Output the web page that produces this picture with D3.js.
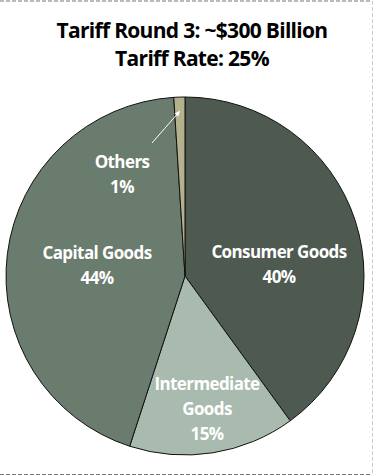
<!DOCTYPE html>
<meta charset="utf-8">
<script src="https://d3js.org/d3.v7.min.js"></script>
<style>
  body { margin: 0; background: #fff; }
  text { font-family: "Open Sans", sans-serif; }
</style>
<div id="chart"></div>
<script>

// data
var categories = ["Consumer Goods", "Intermediate Goods", "Capital Goods", "Others"];
var shares = [40, 15, 44, 1];
var colors = ["#4e5950", "#a8bbae", "#6a7c6e", "#b4b18f"];
var titleLines = ["Tariff Round 3: ~$300 Billion", "Tariff Rate: 25%"];

var width = 374, height = 476;
var cx = 185, cy = 276, radius = 179;

var svg = d3.select("#chart")
  .append("svg")
    .attr("width", width)
    .attr("height", height);

// dashed frame (top, right, bottom)
svg.append("line")
  .attr("x1", 0).attr("x2", 372).attr("y1", 1).attr("y2", 1)
  .attr("stroke", "#777").attr("stroke-dasharray", "4,2");
svg.append("line")
  .attr("x1", 0).attr("x2", 372).attr("y1", 474.5).attr("y2", 474.5)
  .attr("stroke", "#777").attr("stroke-dasharray", "4,2");
svg.append("line")
  .attr("x1", 372.5).attr("x2", 372.5).attr("y1", 1).attr("y2", 474)
  .attr("stroke", "#ccc").attr("stroke-dasharray", "4,2");

// title
svg.selectAll(".title")
  .data(titleLines)
  .enter()
  .append("text")
    .attr("class", "title")
    .attr("x", 192)
    .attr("y", function(d, i) { return 38 + i * 28; })
    .attr("text-anchor", "middle")
    .style("font-size", "21px")
    .style("font-weight", "700")
    .style("letter-spacing", "-0.7px")
    .attr("fill", "#000")
    .text(function(d) { return d; });

var data = categories.map(function(c, i) { return {name: c, value: shares[i], color: colors[i]}; });

var pie = d3.pie()
  .sort(null)
  .value(function(d) { return d.value; });

var arc = d3.arc()
  .innerRadius(0)
  .outerRadius(radius);

var g = svg.append("g")
  .attr("transform", "translate(" + cx + "," + cy + ")");

g.selectAll("path")
  .data(pie(data))
  .enter()
  .append("path")
    .attr("d", arc)
    .attr("fill", function(d) { return d.data.color; })
    .attr("stroke", "#111")
    .attr("stroke-width", 1);

// labels (positions relative to pie centre)
var labelPos = [
  {x: 94, y: -18, lines: ["Consumer Goods", "40%"]},
  {x: 22, y: 114, lines: ["Intermediate", "Goods", "15%"]},
  {x: -88, y: -17, lines: ["Capital Goods", "44%"]},
  {x: -63, y: -108, lines: ["Others", "1%"]}
];

labelPos.forEach(function(l) {
  var t = g.append("text")
    .attr("text-anchor", "middle")
    .attr("fill", "#fff")
    .style("font-size", "17px")
    .style("font-weight", "700")
    .style("letter-spacing", "-0.6px");
  l.lines.forEach(function(s, i) {
    t.append("tspan")
      .attr("x", l.x)
      .attr("y", l.y + i * 25)
      .text(s);
  });
});

// arrow from "Others" label to its slice
svg.append("defs").append("marker")
  .attr("id", "head")
  .attr("viewBox", "0 0 10 10")
  .attr("refX", 9).attr("refY", 5)
  .attr("markerWidth", 6).attr("markerHeight", 6)
  .attr("markerUnits", "userSpaceOnUse")
  .attr("orient", "auto")
  .append("path")
    .attr("d", "M0,1L10,5L0,9z")
    .attr("fill", "#fff");

var othersArc = pie(data)[3];
var mid = (othersArc.startAngle + othersArc.endAngle) / 2;
g.append("line")
  .attr("x1", -33).attr("y1", -133)
  .attr("x2", Math.sin(mid) * (radius - 14))
  .attr("y2", -Math.cos(mid) * (radius - 14))
  .attr("stroke", "#fff")
  .attr("stroke-width", 1)
  .attr("marker-end", "url(#head)");

</script>
